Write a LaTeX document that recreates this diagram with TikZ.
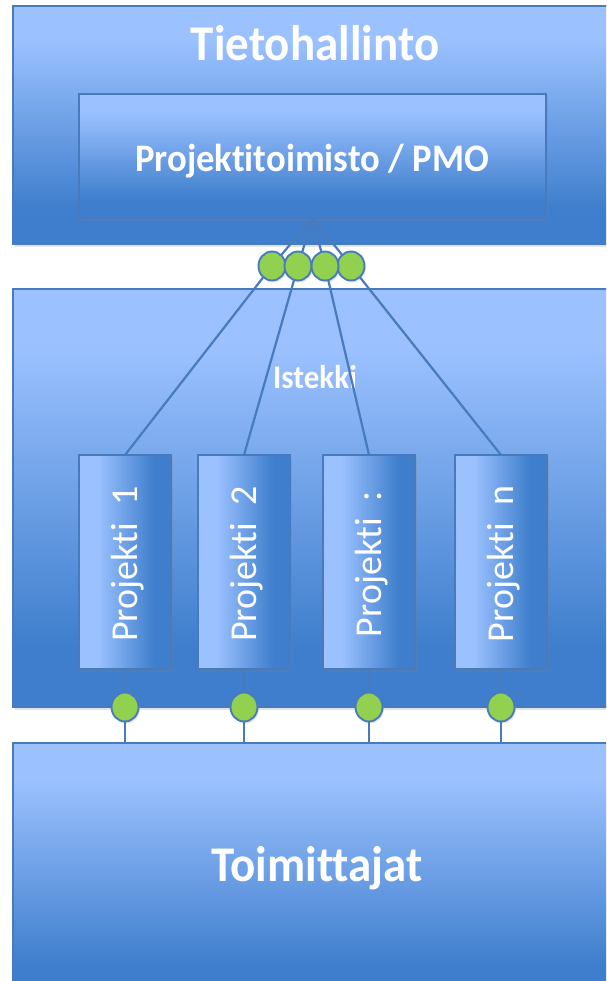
\documentclass[tikz,border=0pt]{standalone}
\usepackage{fontspec}
\setmainfont{Carlito}[Ligatures=NoCommon]
\usetikzlibrary{shadows,shapes.geometric,calc}
\definecolor{ltblue}{RGB}{155,193,255}
\definecolor{dkblue}{RGB}{62,126,204}
\definecolor{edgeblue}{RGB}{72,122,190}
\definecolor{dotgreen}{RGB}{146,208,80}
\pgfdeclareverticalshading{vgrad}{100bp}{color(0bp)=(dkblue); color(25bp)=(dkblue); color(32bp)=(dkblue); color(68bp)=(ltblue); color(75bp)=(ltblue); color(100bp)=(ltblue)}
\pgfdeclarehorizontalshading{hgrad}{100bp}{color(0bp)=(ltblue); color(25bp)=(ltblue); color(35bp)=(ltblue); color(66bp)=(dkblue); color(75bp)=(dkblue); color(100bp)=(dkblue)}
\begin{document}
\begin{tikzpicture}[x=1pt,y=-1pt,
  box/.style={draw=edgeblue, line width=1.6pt, inner sep=0pt, outer sep=0pt, anchor=north west,
    drop shadow={shadow xshift=2pt, shadow yshift=-3pt, opacity=0.22}},
  vbox/.style={box, shading=vgrad},
  hbox/.style={box, shading=hgrad, minimum width=92pt, minimum height=214pt},
  lbl/.style={text=white, font=\bfseries\fontsize{#1}{#1}\selectfont, inner sep=0pt, anchor=base, xscale=0.94},
  projlbl/.style={text=white, font=\fontsize{38}{38}\selectfont, rotate=90, inner sep=0pt, anchor=base},
  dot/.style={ellipse, draw=edgeblue, line width=1.9pt, fill=dotgreen, minimum width=27pt, minimum height=29pt, inner sep=0pt,
    drop shadow={shadow xshift=1.5pt, shadow yshift=-2pt, opacity=0.2}},
  link/.style={draw=edgeblue, line width=2.2pt}
]
\useasboundingbox (0,0) rectangle (606,981);
\clip (0,0) rectangle (606,981);
% main boxes
\node[vbox, minimum width=640pt, minimum height=238pt] (th) at (13,6) {};
\node[vbox, minimum width=467pt, minimum height=124pt] (pmo) at (79,94) {};
\node[vbox, minimum width=640pt, minimum height=418pt] (ist) at (13,289) {};
\node[vbox, minimum width=640pt, minimum height=260pt] (toi) at (13,743) {};
% labels
\node[lbl=50] (thl) at (315,61) {Tietohallinto};
\node[lbl=39] (pmol) at (312,172) {Projektitoimisto / PMO};
\node[lbl=33] (istl) at (315,388) {Istekki};
\node[lbl=50] (toil) at (317,881) {Toimittajat};
% project boxes
\node[hbox] (p1) at (79,455) {};
\node[hbox] (p2) at (198,455) {};
\node[hbox] (p3) at (323,455) {};
\node[hbox] (p4) at (455,455) {};
\node[projlbl] (p1l) at ($(p1.center)+(12,2)$) {Projekti~ 1};
\node[projlbl] (p2l) at ($(p2.center)+(12,2)$) {Projekti~ 2};
\node[projlbl] (p3l) at ($(p3.center)+(12,2)$) {Projekti~ :};
\node[projlbl] (p4l) at ($(p4.center)+(12,2)$) {Projekti~ n};
% connection points
\coordinate (c1) at (272,266);
\coordinate (c2) at (298,266);
\coordinate (c3) at (325,266);
\coordinate (c4) at (351,266);
\coordinate (d1) at (p1.south |- 0,707);
\coordinate (d2) at (p2.south |- 0,707);
\coordinate (d3) at (p3.south |- 0,707);
\coordinate (d4) at (p4.south |- 0,707);
% links
\foreach \i in {1,2,3,4}{
  \draw[link] (pmo.south) -- (c\i) -- (p\i.north);
  \draw[link] (p\i.south) -- (d\i) -- (d\i |- toi.north);
}
% dots
\node[dot] (g1) at (c1) {};
\node[dot] (g2) at (c2) {};
\node[dot] (g4) at (c4) {};
\node[dot] (g3) at (c3) {};
\node[dot] (h1) at (d1) {};
\node[dot] (h2) at (d2) {};
\node[dot] (h3) at (d3) {};
\node[dot] (h4) at (d4) {};
\end{tikzpicture}
\end{document}
